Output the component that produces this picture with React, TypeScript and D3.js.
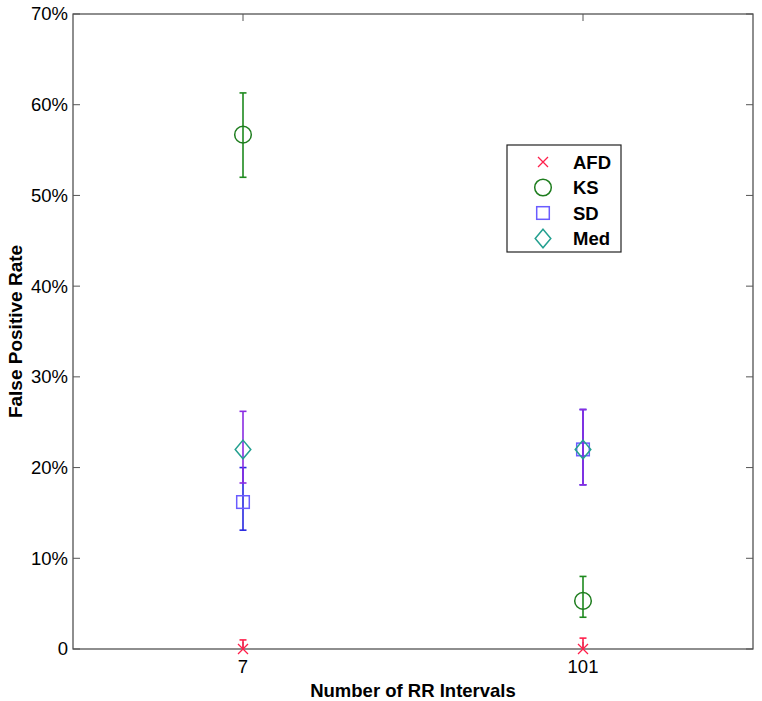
import React from 'react';
import * as d3 from 'd3';

const categories = ['7', '101'];
const yTicks = [0, 10, 20, 30, 40, 50, 60, 70];

// values in percent (mean, lower end, upper end)
const afdMean = [0, 0];
const afdLow = [0, 0];
const afdHigh = [1.0, 1.2];

const ksMean = [56.7, 5.3];
const ksLow = [52.0, 3.5];
const ksHigh = [61.3, 8.0];

const sdMean = [16.2, 22.0];
const sdLow = [13.1, 18.1];
const sdHigh = [20.0, 26.4];

const medMean = [22.0, 22.0];
const medLow = [18.3, 18.1];
const medHigh = [26.2, 26.4];

const W = 762;
const H = 701;
const left = 73, right = 753, top = 14, bottom = 649;
const font = 'Liberation Sans, Arial, Helvetica, sans-serif';

const x = d3.scaleLinear().domain([0.5, 2.5]).range([left, right]);
const y = d3.scaleLinear().domain([0, 70]).range([bottom, top]);

const marker = (kind: string, cx: number, cy: number, color: string) => {
    if (kind === 'x') {
        const s = 5;
        return (
            <path d={`M${cx - s},${cy - s}L${cx + s},${cy + s}M${cx - s},${cy + s}L${cx + s},${cy - s}`}
                stroke={color} strokeWidth={1.3} fill="none" />
        );
    }
    if (kind === 'o') {
        return <circle cx={cx} cy={cy} r={8.3} stroke={color} strokeWidth={1.5} fill="none" />;
    }
    if (kind === 's') {
        return <rect x={cx - 6.3} y={cy - 6.3} width={12.6} height={12.6} stroke={color} strokeWidth={1.5} fill="none" />;
    }
    return (
        <path d={`M${cx},${cy - 9.3}L${cx + 7.8},${cy}L${cx},${cy + 9.3}L${cx - 7.8},${cy}Z`}
            stroke={color} strokeWidth={1.5} fill="none" />
    );
};

const series = [
    { name: 'AFD', mean: afdMean, low: afdLow, high: afdHigh, kind: 'x', color: '#ff1f4b', bar: '#ff1f4b' },
    { name: 'KS', mean: ksMean, low: ksLow, high: ksHigh, kind: 'o', color: '#1e7d1e', bar: '#1e8a1e' },
    { name: 'SD', mean: sdMean, low: sdLow, high: sdHigh, kind: 's', color: '#6a5cff', bar: '#2626e0' },
    { name: 'Med', mean: medMean, low: medLow, high: medHigh, kind: 'd', color: '#24a090', bar: '#8a2be2' },
];

const ErrorBar = ({ cx, lo, hi, color }: { cx: number; lo: number; hi: number; color: string }) => {
    const cap = 3.5;
    return (
        <g stroke={color} strokeWidth={1.6}>
            <line x1={cx} x2={cx} y1={y(lo)} y2={y(hi)} />
            <line x1={cx - cap} x2={cx + cap} y1={y(hi)} y2={y(hi)} />
            {lo > 0 && <line x1={cx - cap} x2={cx + cap} y1={y(lo)} y2={y(lo)} />}
        </g>
    );
};

export default function App() {
    const tickLen = 7;
    const legX = 507, legY = 145, legW = 114, legH = 107;
    return (
        <svg width={W} height={H} style={{ position: 'absolute', left: 0, top: 0, background: '#fff' }}>
            <rect x={0} y={0} width={W} height={H} fill="#fff" />
            {/* axes box */}
            <rect x={left} y={top} width={right - left} height={bottom - top} fill="none" stroke="#444" strokeWidth={1.2} />
            {yTicks.map(t => (
                <g key={t}>
                    <line x1={left} x2={left + tickLen} y1={y(t)} y2={y(t)} stroke="#555" />
                    <line x1={right} x2={right - tickLen} y1={y(t)} y2={y(t)} stroke="#555" />
                    <text x={left - 5} y={y(t)} dy="0.35em" textAnchor="end" fontFamily={font} fontSize={18.5} fill="#000">
                        {t === 0 ? '0' : `${t}%`}
                    </text>
                </g>
            ))}
            {categories.map((c, i) => (
                <g key={c}>
                    <line x1={x(i + 1)} x2={x(i + 1)} y1={bottom} y2={bottom - tickLen} stroke="#555" />
                    <line x1={x(i + 1)} x2={x(i + 1)} y1={top} y2={top + tickLen} stroke="#555" />
                    <text x={x(i + 1)} y={bottom + 24} textAnchor="middle" fontFamily={font} fontSize={18.5} fill="#000">{c}</text>
                </g>
            ))}
            <text x={(left + right) / 2} y={697} textAnchor="middle" fontFamily={font} fontSize={18.5} fontWeight="bold">
                Number of RR Intervals
            </text>
            <text transform={`translate(22,${(top + bottom) / 2}) rotate(-90)`} textAnchor="middle" fontFamily={font}
                fontSize={19} fontWeight="bold">
                False Positive Rate
            </text>
            {/* data */}
            {series.map(s => (
                <g key={s.name}>
                    {categories.map((c, i) => (
                        <g key={c}>
                            <ErrorBar cx={x(i + 1)} lo={s.low[i]} hi={s.high[i]} color={s.bar} />
                            {marker(s.kind, x(i + 1), y(s.mean[i]), s.color)}
                        </g>
                    ))}
                </g>
            ))}
            {/* legend */}
            <rect x={legX} y={legY} width={legW} height={legH} fill="#fff" stroke="#222" strokeWidth={1.2} />
            {series.map((s, i) => (
                <g key={s.name}>
                    {marker(s.kind, legX + 36, legY + 17 + i * 25.5, s.color)}
                    <text x={legX + 66} y={legY + 17 + i * 25.5} dy="0.36em" fontFamily={font} fontSize={18.5} fontWeight="bold">
                        {s.name}
                    </text>
                </g>
            ))}
        </svg>
    );
}
